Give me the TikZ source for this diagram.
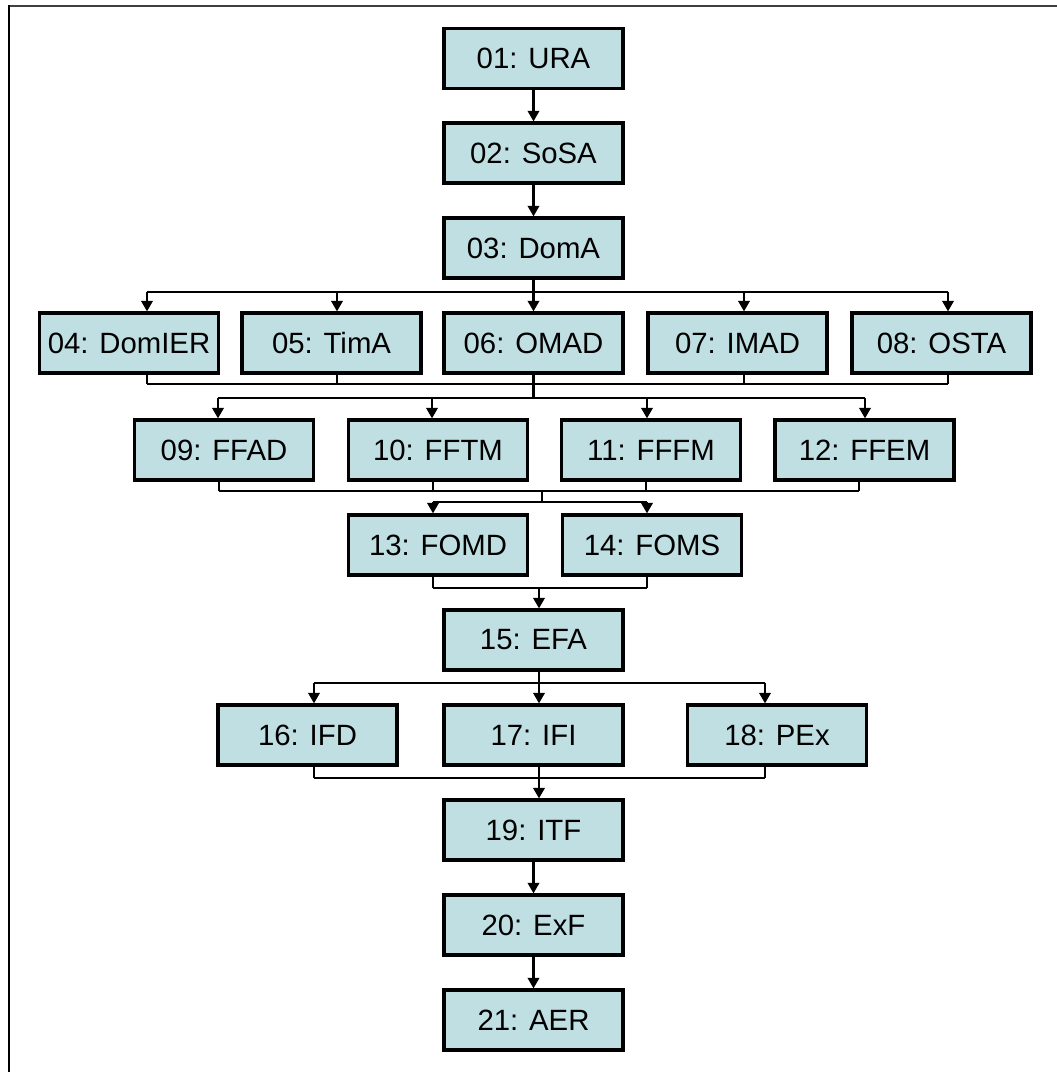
\documentclass[tikz,border=0pt]{standalone}
\usepackage{fontspec}
\setmainfont{Liberation Sans}
\usetikzlibrary{arrows.meta}
\definecolor{boxfill}{RGB}{192,223,227}
\begin{document}
\begin{tikzpicture}[x=0.75pt,y=-0.75pt,
  box/.style={draw=black, fill=boxfill, line width=2.3pt, minimum width=134.25pt,
    minimum height=45pt, inner sep=2pt, font=\fontsize{22}{24}\selectfont},
  wire/.style={line width=2pt, black},
  arr/.style={wire, -{Triangle[width=8.5pt,length=8pt]}}]
\useasboundingbox (0,0) rectangle (1057,1072);
\fill[white] (0,0) rectangle (1057,1072);
% frame
\draw[line width=2pt, black!75] (9,6) -- (1057,6);
\draw[line width=2pt, black] (9,5) -- (9,1072);

% boxes
\node[box] (a01) at (533.5,58.5) {01: URA};
\node[box] (a02) at (533.5,153) {02: SoSA};
\node[box] (a03) at (533.5,248) {03: DomA};
\node[box] (a04) at (129,343) {04: DomIER};
\node[box] (a05) at (331.5,343) {05: TimA};
\node[box] (a06) at (533.5,343) {06: OMAD};
\node[box] (a07) at (737.5,343) {07: IMAD};
\node[box] (a08) at (941.5,343) {08: OSTA};
\node[box] (a09) at (224,450) {09: FFAD};
\node[box] (a10) at (438,450) {10: FFTM};
\node[box] (a11) at (651,450) {11: FFFM};
\node[box] (a12) at (864.5,450) {12: FFEM};
\node[box] (a13) at (438,545) {13: FOMD};
\node[box] (a14) at (652,545) {14: FOMS};
\node[box] (a15) at (533.5,640) {15: EFA};
\node[box] (a16) at (307.5,735) {16: IFD};
\node[box] (a17) at (533.5,735) {17: IFI};
\node[box] (a18) at (777,735) {18: PEx};
\node[box] (a19) at (533.5,830) {19: ITF};
\node[box] (a20) at (533.5,925) {20: ExF};
\node[box] (a21) at (533.5,1020) {21: AER};

% 01 -> 02 -> 03
\draw[arr] (a01) -- (a02);
\draw[arr] (a02) -- (a03);

% 03 fans out to 04..08
\coordinate (j1) at (533.5,292);
\coordinate (p04) at (147,292);
\coordinate (p05) at (337,292);
\coordinate (p07) at (744,292);
\coordinate (p08) at (948,292);
\draw[wire] (a03) -- (j1);
\draw[wire] (p04) -- (p08);
\foreach \n in {04,05,07,08} \draw[arr] (p\n) -- (p\n |- a\n.north);
\draw[arr] (j1) -- (a06);

% 04..08 merge, fan out to 09..12
\coordinate (q04) at (147,384);
\coordinate (q05) at (337,384);
\coordinate (q07) at (744,384);
\coordinate (q08) at (948,384);
\foreach \n in {04,05,07,08} \draw[wire] (a\n.south -| q\n) -- (q\n);
\draw[wire] (q04) -- (q08);
\coordinate (j2) at (533.5,398);
\draw[wire] (a06) -- (j2);
\coordinate (r09) at (218,398);
\coordinate (r10) at (432,398);
\coordinate (r11) at (647,398);
\coordinate (r12) at (865,398);
\draw[wire] (r09) -- (r12);
\foreach \n in {09,10,11,12} \draw[arr] (r\n) -- (r\n |- a\n.north);

% 09..12 merge, fan out to 13, 14
\coordinate (s09) at (219,491);
\coordinate (s10) at (433,491);
\coordinate (s11) at (646,491);
\coordinate (s12) at (859,491);
\foreach \n in {09,10,11,12} \draw[wire] (a\n.south -| s\n) -- (s\n);
\draw[wire] (s09) -- (s12);
\coordinate (j3) at (542,491);
\coordinate (j4) at (542,502);
\draw[wire] (j3) -- (j4);
\coordinate (u13) at (433,502);
\coordinate (u14) at (647,502);
\draw[wire] (u13) -- (u14);
\foreach \n in {13,14} \draw[arr] (u\n) -- (u\n |- a\n.north);

% 13, 14 merge into 15
\coordinate (v13) at (433,588);
\coordinate (v14) at (647,588);
\foreach \n in {13,14} \draw[wire] (a\n.south -| v\n) -- (v\n);
\draw[wire] (v13) -- (v14);
\coordinate (j5) at (539,588);
\draw[arr] (j5) -- (j5 |- a15.north);

% 15 fans out to 16..18
\coordinate (j6) at (539,683);
\draw[wire] (a15.south -| j6) -- (j6);
\coordinate (w16) at (314,683);
\coordinate (w18) at (765,683);
\draw[wire] (w16) -- (w18);
\draw[arr] (w16) -- (w16 |- a16.north);
\draw[arr] (j6) -- (j6 |- a17.north);
\draw[arr] (w18) -- (w18 |- a18.north);

% 16..18 merge into 19
\coordinate (x16) at (314,778);
\coordinate (x18) at (765,778);
\coordinate (j7) at (539,778);
\draw[wire] (a16.south -| x16) -- (x16);
\draw[wire] (a18.south -| x18) -- (x18);
\draw[wire] (x16) -- (x18);
\draw[wire] (a17.south -| j7) -- (j7);
\draw[arr] (j7) -- (j7 |- a19.north);

% 19 -> 20 -> 21
\draw[arr] (a19) -- (a20);
\draw[arr] (a20) -- (a21);
\end{tikzpicture}
\end{document}
